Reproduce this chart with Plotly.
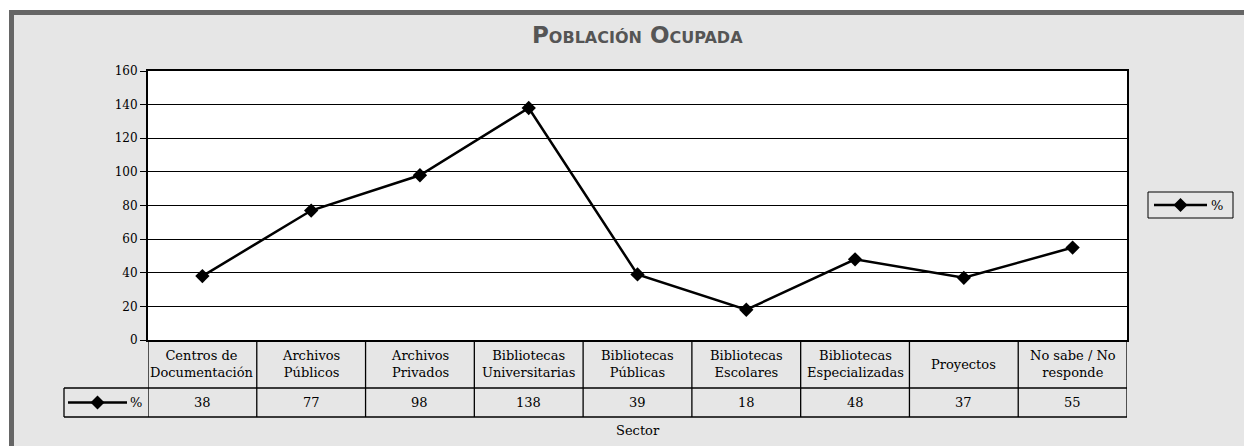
import plotly.graph_objects as go

categories = ["Centros de<br>Documentación", "Archivos<br>Públicos", "Archivos<br>Privados",
              "Bibliotecas<br>Universitarias", "Bibliotecas<br>Públicas", "Bibliotecas<br>Escolares",
              "Bibliotecas<br>Especializadas", "Proyectos", "No sabe / No<br>responde"]
values = [38, 77, 98, 138, 39, 18, 48, 37, 55]
y_ticks = [0, 20, 40, 60, 80, 100, 120, 140, 160]
series_name = "%"
title_text = "Población Ocupada"
x_title = "Sector"

OFF = 8  # page body margin
SW, SH = 1252, 446          # screen size
W, H = SW - OFF, SH - OFF   # figure size
L, R, T, B = 148, 1127, 71, 340   # plot area in screen pixels
PW, PH = R - L, B - T

def xp(p):
    return (p - L) / PW

def yp(p):
    return (B - p) / PH

SERIF = "DejaVu Serif"
n = len(categories)
xs = list(range(n))

fig = go.Figure()
fig.add_trace(go.Scatter(
    x=xs, y=values, mode="lines+markers", name=series_name,
    line=dict(color="black", width=2.5),
    marker=dict(symbol="diamond", size=11, color="black"),
    showlegend=False, cliponaxis=False,
))

shapes = []
annotations = []

# outer frame
shapes.append(dict(type="rect", xref="paper", yref="paper", x0=xp(0), x1=xp(SW + 5), y0=yp(0), y1=yp(10),
                   fillcolor="white", line=dict(width=0), layer="above"))
shapes.append(dict(type="rect", xref="paper", yref="paper", x0=xp(0), x1=xp(9), y0=yp(0), y1=yp(SH + 5),
                   fillcolor="white", line=dict(width=0), layer="above"))
shapes.append(dict(type="rect", xref="paper", yref="paper", x0=xp(9), x1=xp(SW + 5), y0=yp(10), y1=yp(15),
                   fillcolor="#666666", line=dict(width=0), layer="above"))
shapes.append(dict(type="rect", xref="paper", yref="paper", x0=xp(9), x1=xp(14), y0=yp(10), y1=yp(SH + 5),
                   fillcolor="#666666", line=dict(width=0), layer="above"))

# data table grid
ROW1, ROW2 = 388, 417
LEG_L = 64
lw = 1.3
for yy in (ROW1, ROW2):
    shapes.append(dict(type="line", xref="paper", yref="paper", x0=xp(LEG_L), x1=1, y0=yp(yy), y1=yp(yy),
                       line=dict(color="black", width=lw)))
shapes.append(dict(type="line", xref="paper", yref="paper", x0=xp(LEG_L), x1=xp(LEG_L), y0=yp(ROW1), y1=yp(ROW2),
                   line=dict(color="black", width=lw)))
for k in range(n + 1):
    shapes.append(dict(type="line", xref="x", yref="paper", x0=k - 0.5, x1=k - 0.5, y0=0, y1=yp(ROW2),
                       line=dict(color="black", width=lw)))

for i, (c, v) in enumerate(zip(categories, values)):
    annotations.append(dict(x=i, y=yp((B + ROW1) / 2), xref="x", yref="paper", text=c, showarrow=False,
                            xanchor="center", yanchor="middle", align="center",
                            font=dict(family=SERIF, size=13, color="black")))
    annotations.append(dict(x=i, y=yp((ROW1 + ROW2) / 2), xref="x", yref="paper", text=str(v), showarrow=False,
                            xanchor="center", yanchor="middle",
                            font=dict(family=SERIF, size=13, color="black")))

def legend_key(x0, x1, yc):
    shapes.append(dict(type="line", xref="paper", yref="paper", x0=xp(x0), x1=xp(x1), y0=yp(yc), y1=yp(yc),
                       line=dict(color="black", width=2.5)))
    xm = (x0 + x1) / 2
    d = 7
    path = "M {} {} L {} {} L {} {} L {} {} Z".format(xp(xm - d), yp(yc), xp(xm), yp(yc - d),
                                                        xp(xm + d), yp(yc), xp(xm), yp(yc + d))
    shapes.append(dict(type="path", xref="paper", yref="paper", path=path, fillcolor="black",
                       line=dict(color="black", width=0)))

# legend inside table
legend_key(68, 127, (ROW1 + ROW2) / 2)
annotations.append(dict(x=xp(128), y=yp((ROW1 + ROW2) / 2), xref="paper", yref="paper", text=series_name,
                        showarrow=False, xanchor="left", yanchor="middle",
                        font=dict(family=SERIF, size=13, color="black")))

# right legend box
shapes.append(dict(type="rect", xref="paper", yref="paper", x0=xp(1148), x1=xp(1233), y0=yp(192), y1=yp(218),
                   fillcolor="rgba(0,0,0,0)", line=dict(color="black", width=1)))
legend_key(1154, 1207, 205)
annotations.append(dict(x=xp(1209), y=yp(205), xref="paper", yref="paper", text=series_name,
                        showarrow=False, xanchor="left", yanchor="middle",
                        font=dict(family=SERIF, size=13, color="black")))

# title
annotations.append(dict(x=0.5, y=yp(35), xref="paper", yref="paper", text="<b>" + title_text + "</b>",
                        showarrow=False, xanchor="center", yanchor="middle",
                        font=dict(family="DejaVu Sans", size=23, color="#555555", variant="small-caps")))
# x title
annotations.append(dict(x=0.5, y=yp(431), xref="paper", yref="paper", text=x_title,
                        showarrow=False, xanchor="center", yanchor="middle",
                        font=dict(family=SERIF, size=13, color="black")))

fig.update_layout(
    width=W, height=H,
    margin=dict(l=L - OFF, r=SW - R, t=T - OFF, b=SH - B, pad=0),
    paper_bgcolor="#e6e6e6", plot_bgcolor="white",
    shapes=shapes, annotations=annotations,
    xaxis=dict(range=[-0.5, n - 0.5], showgrid=False, zeroline=False, showticklabels=False,
               showline=True, linecolor="black", linewidth=2, mirror=True, ticks=""),
    yaxis=dict(range=[0, 160], tickvals=y_ticks, showgrid=True, gridcolor="black", gridwidth=1,
               zeroline=False, showline=True, linecolor="black", linewidth=2, mirror=True,
               ticks="outside", ticklen=6, tickcolor="black",
               tickfont=dict(family=SERIF, size=12, color="black")),
    showlegend=False,
)

fig.write_html("out.html")
